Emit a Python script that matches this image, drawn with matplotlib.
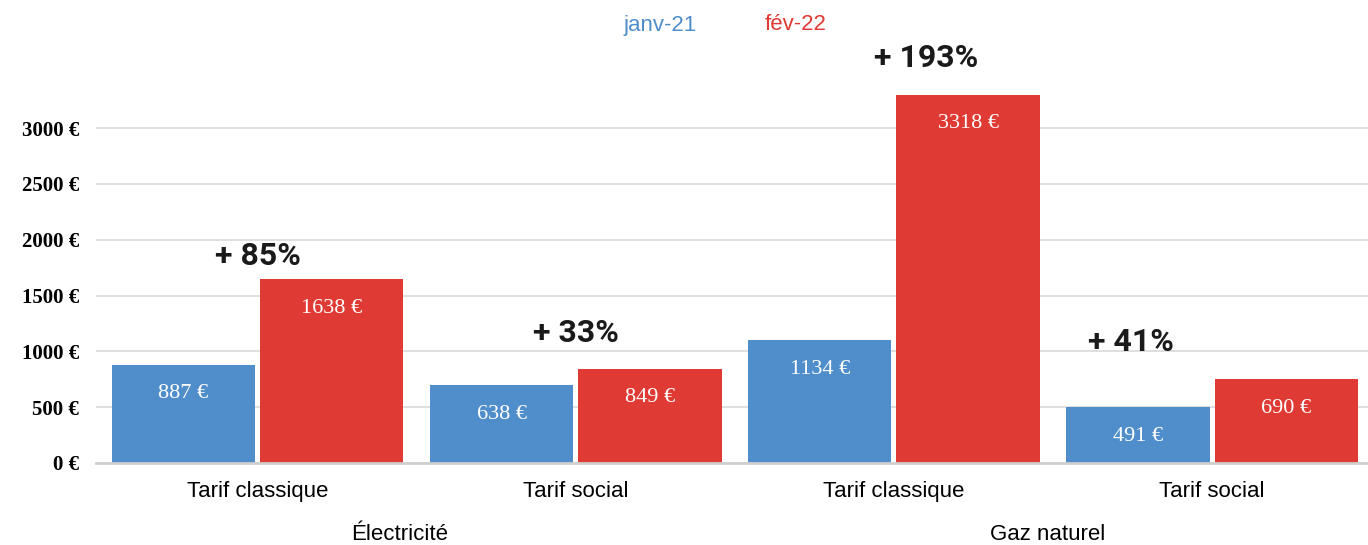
import matplotlib
matplotlib.use("Agg")
import matplotlib.pyplot as plt
import numpy as np

categories = ["Tarif classique", "Tarif social", "Tarif classique", "Tarif social"]
groups = ["Électricité", "Gaz naturel"]
series_names = ["janv-21", "fév-22"]
jan21_values = [880, 698, 1100, 500]
feb22_values = [1645, 845, 3300, 752]
jan21_labels = ["887 €", "638 €", "1134 €", "491 €"]
feb22_labels = ["1638 €", "849 €", "3318 €", "690 €"]
pct_labels = ["+ 85%", "+ 33%", "+ 193%", "+ 41%"]
pct_pos = [(0.0, 1854), (1.0, 1164), (2.10, 3627), (2.745, 1083)]
yticks = [0, 500, 1000, 1500, 2000, 2500, 3000]

BLUE = "#508ECB"
RED = "#E03A34"

W, H = 1368, 545
fig = plt.figure(figsize=(W / 100, H / 100), dpi=100)
ax_left, ax_right = 96 / W, 1.0
ax_bottom = 1 - 463 / H
ymax = 3600
ax_top_px = 463 - ymax * (335 / 3000)
ax = fig.add_axes([ax_left, ax_bottom, ax_right - ax_left, (463 - ax_top_px) / H])

x = np.arange(len(categories))
bw = 0.45
off = 0.233
b1 = ax.bar(x - off, jan21_values, bw, color=BLUE, zorder=3)
b2 = ax.bar(x + off, feb22_values, bw, color=RED, zorder=3)

serif = ["Liberation Serif", "DejaVu Serif"]
sans = ["Liberation Sans", "DejaVu Sans"]
for rects, labels in ((b1, jan21_labels), (b2, feb22_labels)):
    for rect, lab in zip(rects, labels):
        ax.annotate(lab, (rect.get_x() + rect.get_width() / 2, rect.get_height()),
                    xytext=(0, -21), textcoords="offset points", ha="center", va="center",
                    color="white", fontsize=16, family=serif, zorder=4)

for lab, (px, py) in zip(pct_labels, pct_pos):
    ax.text(px, py, lab, ha="center", va="center", fontsize=23, fontweight="bold",
            family=["Roboto", "DejaVu Sans"], color="#1a1a1a", clip_on=False, zorder=5)

ax.set_xlim(-0.508, 3.49)
ax.set_ylim(0, ymax)
ax.set_yticks(yticks)
ax.set_yticklabels([f"{v} €" for v in yticks], family=serif, fontweight="bold", fontsize=15)
ax.tick_params(axis="y", length=0, pad=12)
ax.set_xticks(x)
ax.set_xticklabels(categories, family=sans, fontsize=16)
ax.tick_params(axis="x", length=0, pad=13)
ax.yaxis.grid(True, color="#dcdcdc", linewidth=1.3, zorder=0)
for s in ["top", "right", "left"]:
    ax.spines[s].set_visible(False)
ax.spines["bottom"].set_color("#cfcfcf")
ax.spines["bottom"].set_linewidth(2)
ax.spines["bottom"].set_zorder(4)

# group labels
fig.text(400 / W, 1 - 535 / H, groups[0], ha="center", va="center", fontsize=16, family=sans)
fig.text(1048 / W, 1 - 535 / H, groups[1], ha="center", va="center", fontsize=16, family=sans)

# legend
fig.text(660 / W, 1 - 25 / H, series_names[0], color=BLUE, ha="center", va="center",
         fontsize=16, family=sans)
fig.text(796 / W, 1 - 25 / H, series_names[1], color=RED, ha="center", va="center",
         fontsize=16, family=sans)

fig.savefig("out.png", dpi=100)
